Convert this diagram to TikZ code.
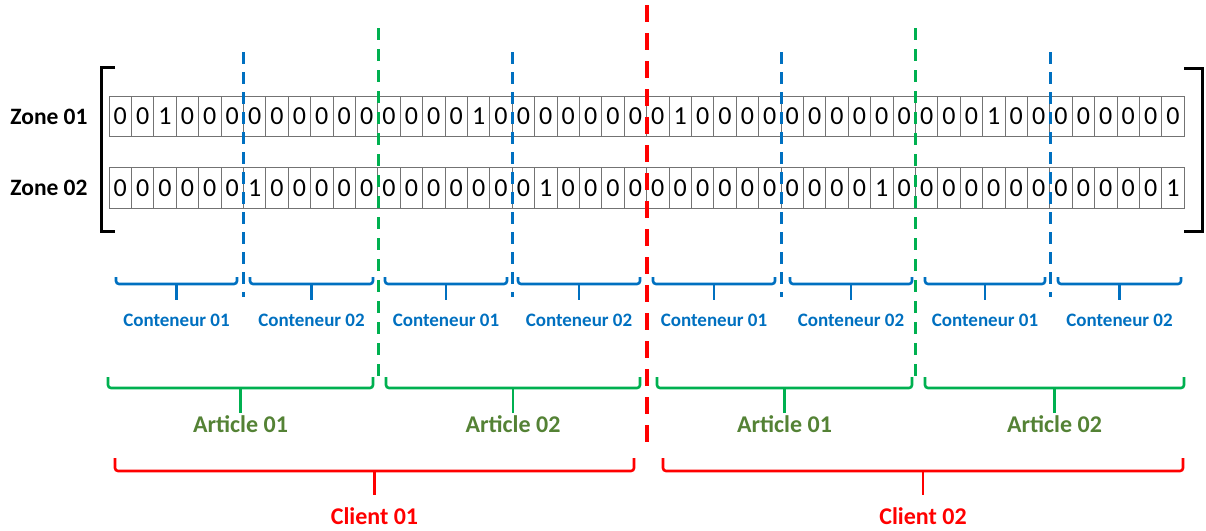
\documentclass[tikz,border=0pt]{standalone}
\usepackage{fontspec}
\setmainfont{Carlito}
\definecolor{contblue}{HTML}{0070C0}
\definecolor{artgreen}{HTML}{00B050}
\definecolor{arttext}{HTML}{548235}
\definecolor{clientred}{HTML}{FF0000}

\begin{document}
\begin{tikzpicture}[x=1pt,y=-1pt,
    cell/.style={draw=black!55,line width=0.8pt,minimum width=22.4pt,minimum height=40.5pt,
        inner sep=0pt,font=\fontsize{26}{26}\selectfont},
    zone/.style={font=\bfseries\fontsize{23.5}{24}\selectfont},
    bluedash/.style={contblue,line width=3pt,dash pattern=on 12pt off 8pt},
    greendash/.style={artgreen,line width=3pt,dash pattern=on 12pt off 9pt},
    reddash/.style={clientred,line width=4pt,dash pattern=on 17pt off 11pt},
    contbrace/.style={contblue,line width=2.6pt,rounded corners=3pt},
    artbrace/.style={artgreen,line width=2.6pt,rounded corners=3pt},
    clientbrace/.style={clientred,line width=2.6pt,rounded corners=3pt},
    contlabel/.style={contblue,font=\bfseries\fontsize{19}{20}\selectfont},
    artlabel/.style={arttext,font=\bfseries\fontsize{24}{24}\selectfont},
    clientlabel/.style={clientred,font=\bfseries\fontsize{24}{24}\selectfont}]

    \useasboundingbox (0,0) rectangle (1206,530);

    % the two zones
    \node[zone] (zone1) at (49,117) {Zone 01};
    \node[zone] (zone2) at (49,188) {Zone 02};
    \foreach \d [count=\i] in {0,0,1,0,0,0, 0,0,0,0,0,0, 0,0,0,0,1,0, 0,0,0,0,0,0,
                               0,1,0,0,0,0, 0,0,0,0,0,0, 0,0,0,1,0,0, 0,0,0,0,0,0}
        \node[cell] (a-\i) at ({109+22.4*(\i-0.5)},116.5) {\d};
    \foreach \d [count=\i] in {0,0,0,0,0,0, 1,0,0,0,0,0, 0,0,0,0,0,0, 0,1,0,0,0,0,
                               0,0,0,0,0,0, 0,0,0,0,1,0, 0,0,0,0,0,0, 0,0,0,0,0,1}
        \node[cell] (b-\i) at ({109+22.4*(\i-0.5)},188) {\d};

    % outer brackets
    \draw[line width=3pt] (115,67) -- (101,67) -- (101,231) -- (115,231);
    \draw[line width=3pt] (1184,68) -- (1202,68) -- (1202,231) -- (1184,231);

    % separators
    \foreach \c in {6,18,30,42}
        \draw[bluedash] (a-\c.east |- 0,52) -- (a-\c.east |- 0,297);
    \foreach \c in {12,36}
        \draw[greendash] (a-\c.east |- 0,28) -- (a-\c.east |- 0,383);
    \draw[reddash] (a-24.east |- 0,5) -- (a-24.east |- 0,452);

    % conteneurs
    \foreach \l/\r/\txt [count=\k] in {116/237/Conteneur 01, 250/373/Conteneur 02,
            385/507/Conteneur 01, 518/640/Conteneur 02, 653/775/Conteneur 01,
            790/912/Conteneur 02, 925/1045/Conteneur 01, 1058/1181/Conteneur 02}{
        \draw[contbrace] (\l,277) -- (\l,284) -- (\r,284) -- (\r,277);
        \coordinate (ct-\k) at ({(\l+\r)/2},284);
        \draw[contbrace] (ct-\k) -- ++(0,16);
        \node[contlabel] (cont-\k) at ({(\l+\r)/2},320) {\txt};
    }

    % articles
    \foreach \l/\r/\txt [count=\k] in {108/373/Article 01, 386/640/Article 02,
            657/912/Article 01, 925/1184/Article 02}{
        \draw[artbrace] (\l,377) -- (\l,388) -- (\r,388) -- (\r,377);
        \coordinate (at-\k) at ({(\l+\r)/2},388);
        \draw[artbrace] (at-\k) -- ++(0,25);
        \node[artlabel] (art-\k) at ({(\l+\r)/2},424) {\txt};
    }

    % clients
    \foreach \l/\r/\txt [count=\k] in {115/634/Client 01, 663/1183/Client 02}{
        \draw[clientbrace] (\l,458) -- (\l,471) -- (\r,471) -- (\r,458);
        \coordinate (cl-\k) at ({(\l+\r)/2},471);
        \draw[clientbrace] (cl-\k) -- ++(0,24);
        \node[clientlabel] (client-\k) at ({(\l+\r)/2},516) {\txt};
    }
\end{tikzpicture}
\end{document}
